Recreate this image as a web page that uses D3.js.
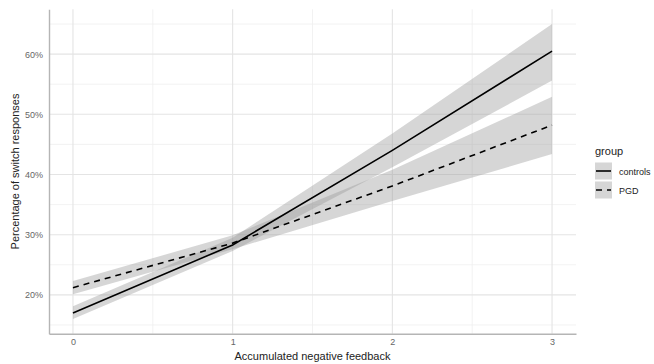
<!DOCTYPE html>
<html>
<head>
<meta charset="utf-8">
<script src="https://cdn.jsdelivr.net/npm/d3@7"></script>
<style>
  body { margin: 0; background: #fff; }
  svg { display: block; font-family: "Liberation Sans", Arial, sans-serif; }
</style>
</head>
<body>
<div id="chart"></div>
<script>
// values (percent), predicted at each feedback level
const feedback = [0, 1, 2, 3];

const controlsFit   = [17.0, 28.3, 44.0, 60.5];
const controlsLower = [16.0, 27.3, 41.2, 55.6];
const controlsUpper = [18.1, 29.5, 46.8, 65.0];

const pgdFit   = [21.2, 28.6, 38.1, 48.2];
const pgdLower = [20.1, 27.6, 35.6, 43.4];
const pgdUpper = [22.3, 29.9, 40.8, 52.9];

const groups = ['controls', 'PGD'];
const xTicks = [0, 1, 2, 3];
const xMinor = [0.5, 1.5, 2.5];
const yTicks = [20, 30, 40, 50, 60];
const yMinor = [15, 25, 35, 45, 55, 65];

const width = 654, height = 364;
const margin = { top: 9.3, right: 78, bottom: 30.3, left: 49 };
const innerW = width - margin.left - margin.right;
const innerH = height - margin.top - margin.bottom;

const series = [
  { name: groups[0], fit: controlsFit, lo: controlsLower, hi: controlsUpper, dash: null },
  { name: groups[1], fit: pgdFit, lo: pgdLower, hi: pgdUpper, dash: '6,5' }
].map(s => ({
  ...s,
  rows: feedback.map((x, i) => ({ x, fit: s.fit[i], lo: s.lo[i], hi: s.hi[i] }))
}));

const svg = d3.select('#chart')
  .append('svg')
  .attr('width', width)
  .attr('height', height);

const g = svg.append('g')
  .attr('transform', `translate(${margin.left},${margin.top})`);

// ggplot-like 5% expansion
const xExt = d3.extent(feedback);
const xPad = (xExt[1] - xExt[0]) * 0.05;
const x = d3.scaleLinear()
  .domain([xExt[0] - xPad, xExt[1] + xPad])
  .range([0, innerW]);

const allY = [...controlsLower, ...controlsUpper, ...pgdLower, ...pgdUpper];
const yExt = d3.extent(allY);
const yPad = (yExt[1] - yExt[0]) * 0.05;
const y = d3.scaleLinear()
  .domain([yExt[0] - yPad, yExt[1] + yPad])
  .range([innerH, 0]);

// grid
g.append('g').selectAll('line').data(yMinor).join('line')
  .attr('x1', 0).attr('x2', innerW)
  .attr('y1', d => y(d)).attr('y2', d => y(d))
  .attr('stroke', '#efefef').attr('stroke-width', 0.8);
g.append('g').selectAll('line').data(xMinor).join('line')
  .attr('y1', 0).attr('y2', innerH)
  .attr('x1', d => x(d)).attr('x2', d => x(d))
  .attr('stroke', '#efefef').attr('stroke-width', 0.8);
g.append('g').selectAll('line').data(yTicks).join('line')
  .attr('x1', 0).attr('x2', innerW)
  .attr('y1', d => y(d)).attr('y2', d => y(d))
  .attr('stroke', '#e4e4e4').attr('stroke-width', 1.1);
g.append('g').selectAll('line').data(xTicks).join('line')
  .attr('y1', 0).attr('y2', innerH)
  .attr('x1', d => x(d)).attr('x2', d => x(d))
  .attr('stroke', '#e4e4e4').attr('stroke-width', 1.1);

// ribbons
const area = d3.area()
  .x(d => x(d.x))
  .y0(d => y(d.lo))
  .y1(d => y(d.hi));

g.selectAll('.ribbon')
  .data(series)
  .join('path')
  .attr('class', 'ribbon')
  .attr('fill', '#999999')
  .attr('fill-opacity', 0.4)
  .attr('d', d => area(d.rows));

// fitted lines
const line = d3.line()
  .x(d => x(d.x))
  .y(d => y(d.fit));

g.selectAll('.fit')
  .data(series)
  .join('path')
  .attr('class', 'fit')
  .attr('fill', 'none')
  .attr('stroke', '#000')
  .attr('stroke-width', 1.6)
  .attr('stroke-dasharray', d => d.dash)
  .attr('d', d => line(d.rows));

// axes
g.append('g')
  .attr('transform', `translate(0,${innerH})`)
  .call(d3.axisBottom(x).tickValues(xTicks).tickSize(0).tickPadding(5).tickFormat(d3.format('d')))
  .call(a => a.select('.domain').attr('stroke', '#b5b5b5').attr('stroke-width', 1.4))
  .call(a => a.selectAll('.tick text').attr('fill', '#666').style('font-size', '9px'));

g.append('g')
  .call(d3.axisLeft(y).tickValues(yTicks).tickSize(0).tickPadding(6).tickFormat(d => d + '%'))
  .call(a => a.select('.domain').attr('stroke', '#b5b5b5').attr('stroke-width', 1.4))
  .call(a => a.selectAll('.tick text').attr('fill', '#666').style('font-size', '9px'));

// axis titles
g.append('text')
  .attr('text-anchor', 'middle')
  .attr('x', innerW / 2)
  .attr('y', innerH + 26)
  .style('font-size', '11px')
  .attr('fill', '#222')
  .text('Accumulated negative feedback');

g.append('text')
  .attr('text-anchor', 'middle')
  .attr('transform', 'rotate(-90)')
  .attr('x', -innerH / 2)
  .attr('y', -30)
  .style('font-size', '11px')
  .attr('fill', '#222')
  .text('Percentage of switch responses');

// legend
const legend = svg.append('g').attr('transform', 'translate(595,146)');
legend.append('text')
  .attr('x', 0).attr('y', 9)
  .style('font-size', '11px')
  .attr('fill', '#222')
  .text('group');

const key = legend.selectAll('.key')
  .data(series)
  .join('g')
  .attr('class', 'key')
  .attr('transform', (d, i) => `translate(0,${16.5 + i * 19})`);

key.append('rect')
  .attr('width', 17).attr('height', 17)
  .attr('fill', '#999999').attr('fill-opacity', 0.4);
key.append('line')
  .attr('x1', 1).attr('x2', 16)
  .attr('y1', 8.5).attr('y2', 8.5)
  .attr('stroke', '#000').attr('stroke-width', 1.6)
  .attr('stroke-dasharray', d => d.dash);
key.append('text')
  .attr('x', 24).attr('y', 12)
  .style('font-size', '9px')
  .attr('fill', '#222')
  .text(d => d.name);
</script>
</body>
</html>
